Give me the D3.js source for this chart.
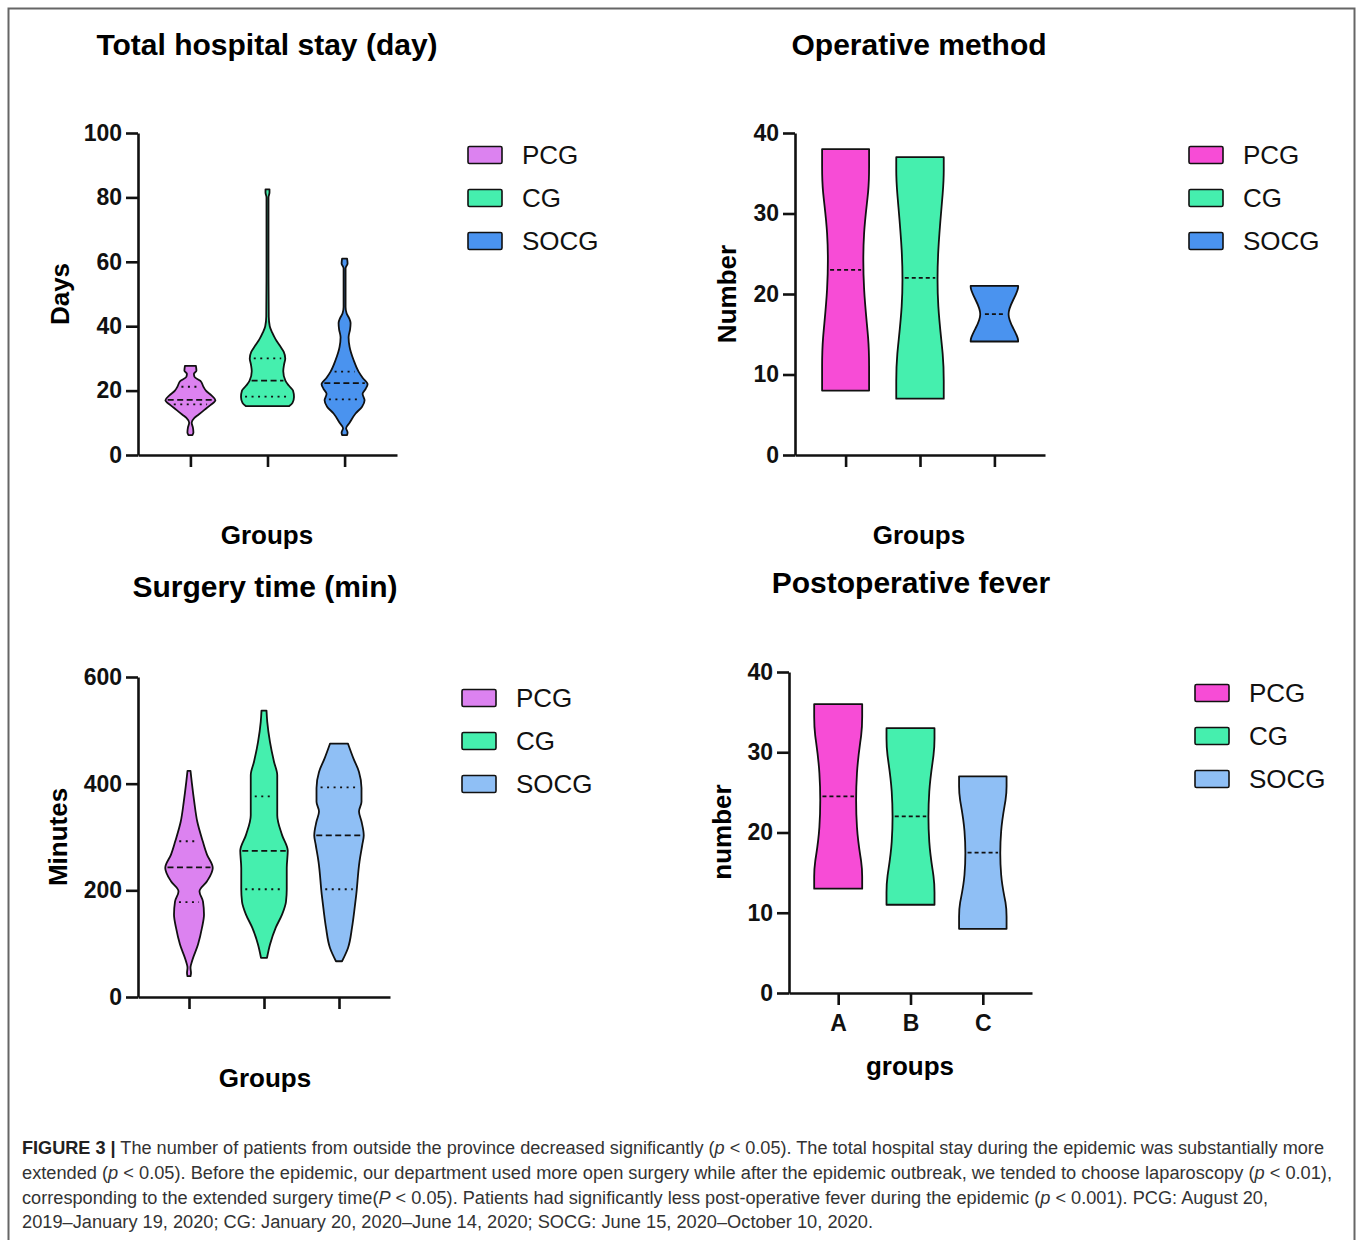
<!DOCTYPE html>
<html>
<head>
<meta charset="utf-8">
<script src="https://cdn.jsdelivr.net/npm/d3@7"></script>
<style>
  body { margin: 0; background: #fff; }
  svg { display: block; font-family: "Liberation Sans", Arial, sans-serif; }
</style>
</head>
<body>
<script>
// groups and legend labels
var groups = ["PCG", "CG", "SOCG"];
var groupLetters = ["A", "B", "C"];

// violin outlines: [value, relative half width]
var stayPCG = [[6.2,0.08],[7,0.12],[8.5,0.1],[10,0.05],[11.5,0.16],[12.5,0.32],[14,0.56],[15.5,0.8],[17,1.0],[18.5,0.84],[20,0.62],[21.2,0.52],[23,0.4],[24.3,0.16],[25.2,0.14],[26.2,0.24],[27.7,0.22]];
var stayCG = [[15.2,0.87],[16.2,1.0],[18,1.06],[20,1.02],[21.5,0.86],[23,0.72],[26,0.63],[28,0.66],[30,0.71],[32,0.65],[34,0.49],[36,0.32],[38,0.19],[40,0.09],[43,0.05],[60,0.04],[80,0.04],[81.5,0.08],[82.5,0.08]];
var staySOCG = [[6.2,0.1],[7,0.12],[8.3,0.06],[10,0.2],[12.9,0.44],[15,0.7],[17,0.8],[19,0.72],[20.5,0.84],[22,0.92],[24,0.72],[25.9,0.56],[29.5,0.36],[33.6,0.2],[36.6,0.16],[39,0.22],[41,0.24],[42.5,0.18],[44,0.08],[46,0.04],[58,0.04],[59.5,0.12],[61,0.1]];
var stayMedian = [17.1, 23.1, 22.3];
var stayQ1 = [15.7, 18.1, 17.3];
var stayQ3 = [21.2, 30, 25.9];

var opPCG = [[8,0.94],[11,0.94],[14,0.94],[20.5,0.7],[27.9,0.7],[33,0.94],[36,0.94],[38,0.94]];
var opCG = [[7,0.95],[9,0.95],[12,0.95],[18.4,0.69],[25.2,0.69],[33.5,0.95],[35.5,0.95],[37,0.95]];
var opSOCG = [[14.1,0.95],[14.5,0.95],[15.6,0.78],[17.5,0.46],[19.4,0.78],[20.6,0.95],[21,0.95]];
var opMedian = [23, 22, 17.5];

var surgPCG = [[39,0.06],[45,0.08],[55,0.06],[67,0.12],[98.5,0.36],[130,0.52],[154.5,0.6],[179,0.56],[198,0.42],[217,0.72],[242,0.95],[267,0.72],[292,0.55],[329,0.33],[366,0.21],[403,0.11],[424,0.06]];
var surgCG = [[73.5,0.12],[98.5,0.24],[130,0.47],[154.5,0.72],[179,0.88],[202,0.91],[242,0.91],[274,0.95],[304,0.72],[341,0.53],[376,0.53],[416,0.53],[441,0.4],[478,0.24],[516,0.13],[537,0.1]];
var surgSOCG = [[67,0.12],[92,0.36],[130,0.52],[161,0.61],[192,0.69],[254,0.82],[285,0.93],[303,0.99],[329,0.9],[348,0.8],[366,0.9],[392,0.9],[422,0.8],[447,0.58],[475,0.36]];
var surgMedian = [243, 274, 303];
var surgQ1 = [178, 202, 202];
var surgQ3 = [292, 376, 393];

var fevPCG = [[13,0.96],[14.5,0.96],[16,0.96],[20,0.71],[28,0.71],[32.5,0.96],[34.5,0.96],[36,0.96]];
var fevCG = [[11,0.96],[12.5,0.96],[14.2,0.96],[18.3,0.71],[25.6,0.71],[30,0.96],[31.8,0.96],[33,0.96]];
var fevSOCG = [[8,0.95],[9.5,0.95],[11,0.95],[14.2,0.69],[20.6,0.69],[24.4,0.95],[25.8,0.95],[27,0.95]];
var fevMedian = [24.5, 22, 17.5];

// tick labels
var stayTicks = [0, 20, 40, 60, 80, 100];
var opTicks = [0, 10, 20, 30, 40];
var surgTicks = [0, 200, 400, 600];
var fevTicks = [0, 10, 20, 30, 40];

var caption = [
  ["<b>FIGURE 3 |</b> The number of patients from outside the province decreased significantly (<i>p</i> &lt; 0.05). The total hospital stay during the epidemic was substantially more", 1302],
  ["extended (<i>p</i> &lt; 0.05). Before the epidemic, our department used more open surgery while after the epidemic outbreak, we tended to choose laparoscopy (<i>p</i> &lt; 0.01),", 1310],
  ["corresponding to the extended surgery time(<i>P</i> &lt; 0.05). Patients had significantly less post-operative fever during the epidemic (<i>p</i> &lt; 0.001). PCG: August 20,", 1246],
  ["2019–January 19, 2020; CG: January 20, 2020–June 14, 2020; SOCG: June 15, 2020–October 10, 2020.", 851]
];

var svgWidth = 1358;
var svgHeight = 1240;

var svg = d3.select("body")
  .append("svg")
  .attr("width", svgWidth)
  .attr("height", svgHeight);

// figure frame
svg.append("rect")
  .attr("x", 8.5).attr("y", 8.5)
  .attr("width", 1346).attr("height", 1260)
  .attr("fill", "none")
  .attr("stroke", "#666")
  .attr("stroke-width", 2);

var widthScale = d3.scaleLinear().domain([0, 1]).range([0, 25]);

function drawPanel(p) {
  var g = svg.append("g");

  var x = d3.scalePoint().domain(groups).range([p.left, p.right]).padding(0.68);
  var y = d3.scaleLinear().domain([0, p.max]).range([p.bottom, p.top]);

  // violins
  p.shapes.forEach(function(shape, i) {
    var cx = x(groups[i]);
    var area = d3.area()
      .y(function(d) { return y(d[0]); })
      .x0(function(d) { return cx - widthScale(d[1]); })
      .x1(function(d) { return cx + widthScale(d[1]); })
      .curve(p.curve);

    g.append("path")
      .datum(shape)
      .attr("d", area)
      .attr("fill", p.colors[i])
      .attr("stroke", "#111")
      .attr("stroke-width", 1.8)
      .attr("stroke-linejoin", "round");

    var hw = d3.scaleLinear()
      .domain(shape.map(function(d) { return d[0]; }))
      .range(shape.map(function(d) { return widthScale(d[1]); }));

    var lines = [{v: p.median[i], dash: p.q1 ? "6,3.5" : "4,3", inset: 2}];
    if (p.q1) {
      lines.push({v: p.q1[i], dash: "2,4.5", inset: 4});
      lines.push({v: p.q3[i], dash: "2,4.5", inset: 4});
    }
    lines.forEach(function(l) {
      var w = hw(l.v) - l.inset;
      g.append("line")
        .attr("x1", cx - w).attr("x2", cx + w)
        .attr("y1", y(l.v)).attr("y2", y(l.v))
        .attr("stroke", "#111")
        .attr("stroke-width", 1.8)
        .attr("stroke-dasharray", l.dash);
    });
  });

  // axes
  var leftAxis = d3.axisLeft(y).tickValues(p.ticks).tickSize(12).tickSizeOuter(0).tickPadding(4);
  var bottomAxis = d3.axisBottom(x).tickSize(12).tickSizeOuter(0).tickPadding(10)
    .tickFormat(function(d, i) { return p.letters ? p.letters[i] : ""; });

  var ya = g.append("g").attr("transform", "translate(" + p.left + ",0)").call(leftAxis);
  var xa = g.append("g").attr("transform", "translate(0," + p.bottom + ")").call(bottomAxis);

  [ya, xa].forEach(function(a) {
    a.selectAll("path, line").attr("stroke", "#111").attr("stroke-width", 2.6);
    a.selectAll("text")
      .attr("fill", "#111")
      .style("font-family", "'Liberation Sans', Arial, sans-serif")
      .style("font-size", "23px")
      .style("font-weight", "bold");
  });

  // titles
  g.append("text")
    .attr("x", p.titleX).attr("y", p.titleY)
    .attr("text-anchor", "middle")
    .attr("dominant-baseline", "central")
    .style("font-size", "30px").style("font-weight", "bold")
    .text(p.title);

  g.append("text")
    .attr("transform", "translate(" + p.yLabelX + "," + p.yLabelY + ") rotate(-90)")
    .attr("text-anchor", "middle")
    .attr("dominant-baseline", "central")
    .style("font-size", "26px").style("font-weight", "bold")
    .text(p.yLabel);

  g.append("text")
    .attr("x", p.xLabelX).attr("y", p.xLabelY)
    .attr("text-anchor", "middle")
    .attr("dominant-baseline", "central")
    .style("font-size", "26px").style("font-weight", "bold")
    .text(p.xLabel);

  // legend
  groups.forEach(function(name, i) {
    var ly = p.legendY + i * 43;
    g.append("rect")
      .attr("x", p.legendX).attr("y", ly - 8.5)
      .attr("width", 34).attr("height", 17)
      .attr("rx", 1.5)
      .attr("fill", p.colors[i])
      .attr("stroke", "#111")
      .attr("stroke-width", 1.6);
    g.append("text")
      .attr("x", p.legendX + 54).attr("y", ly)
      .attr("dominant-baseline", "central")
      .style("font-size", "26px")
      .attr("fill", "#111")
      .text(name);
  });
}

drawPanel({
  left: 138, right: 397, top: 133, bottom: 455, max: 100, ticks: stayTicks,
  shapes: [stayPCG, stayCG, staySOCG], median: stayMedian, q1: stayQ1, q3: stayQ3,
  curve: d3.curveMonotoneY,
  colors: ["#DC82F0", "#45EFAE", "#4A93EF"],
  title: "Total hospital stay (day)", titleX: 267, titleY: 44,
  yLabel: "Days", yLabelX: 60, yLabelY: 294,
  xLabel: "Groups", xLabelX: 267, xLabelY: 535,
  legendX: 468, legendY: 155
});

drawPanel({
  left: 795, right: 1045, top: 133, bottom: 455, max: 40, ticks: opTicks,
  shapes: [opPCG, opCG, opSOCG], median: opMedian,
  curve: d3.curveBasis,
  colors: ["#F74CD6", "#45EFAE", "#4A93EF"],
  title: "Operative method", titleX: 919, titleY: 44,
  yLabel: "Number", yLabelX: 727, yLabelY: 294,
  xLabel: "Groups", xLabelX: 919, xLabelY: 535,
  legendX: 1189, legendY: 155
});

drawPanel({
  left: 138, right: 390, top: 677, bottom: 997, max: 600, ticks: surgTicks,
  shapes: [surgPCG, surgCG, surgSOCG], median: surgMedian, q1: surgQ1, q3: surgQ3,
  curve: d3.curveMonotoneY,
  colors: ["#DC82F0", "#45EFAE", "#8FBFF5"],
  title: "Surgery time (min)", titleX: 265, titleY: 586,
  yLabel: "Minutes", yLabelX: 58, yLabelY: 837,
  xLabel: "Groups", xLabelX: 265, xLabelY: 1078,
  legendX: 462, legendY: 698
});

drawPanel({
  left: 789, right: 1032, top: 672, bottom: 993, max: 40, ticks: fevTicks,
  shapes: [fevPCG, fevCG, fevSOCG], median: fevMedian, letters: groupLetters,
  curve: d3.curveBasis,
  colors: ["#F74CD6", "#45EFAE", "#8FBFF5"],
  title: "Postoperative fever", titleX: 911, titleY: 582,
  yLabel: "number", yLabelX: 722, yLabelY: 832,
  xLabel: "groups", xLabelX: 910, xLabelY: 1066,
  legendX: 1195, legendY: 693
});

// caption
caption.forEach(function(line, i) {
  svg.append("text")
    .attr("x", 22).attr("y", 1154 + i * 24.8)
    .attr("textLength", line[1])
    .attr("lengthAdjust", "spacingAndGlyphs")
    .attr("fill", "#333")
    .style("font-size", "18px")
    .html(line[0].replace(/<b>/g, "<tspan font-weight='bold' fill='#222'>").replace(/<\/b>/g, "</tspan>")
      .replace(/<i>/g, "<tspan font-style='italic'>").replace(/<\/i>/g, "</tspan>"));
});
</script>
</body>
</html>
